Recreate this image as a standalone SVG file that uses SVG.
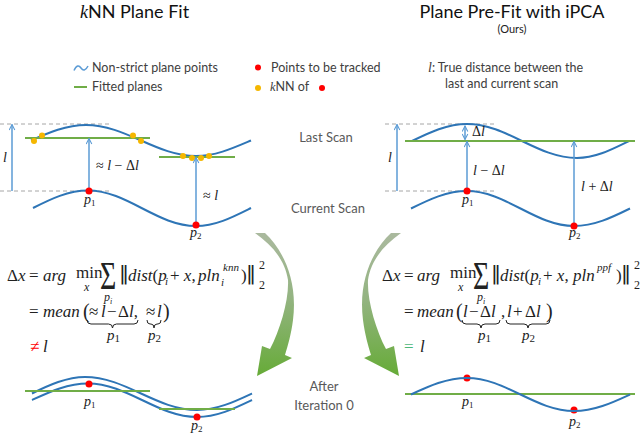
<svg xmlns="http://www.w3.org/2000/svg" width="640" height="436" viewBox="0 0 640 436">
<defs>
<style>
.sans{font-family:Lato,"Open Sans","Liberation Sans",sans-serif;}
.ttl{font-size:18px;fill:#111;}
.leg{font-size:12.5px;fill:#404040;}
.lbl{font-size:13px;fill:#595959;}
.m{font-family:"Liberation Serif","DejaVu Serif",serif;font-size:17px;fill:#222;}
.mi{font-style:italic;}
.nb{font-family:"DejaVu Sans",sans-serif;font-size:20px;fill:#222;font-style:normal;}
.sig{font-family:"Liberation Serif",serif;font-size:40px;fill:#222;}
.ml{font-family:"Liberation Serif","DejaVu Serif",serif;font-size:14px;fill:#222;font-style:italic;}
.wave{fill:none;stroke:#2e75b6;stroke-width:2;}
.plane{stroke:#70ad47;stroke-width:2;}
.arr{stroke:#5b9bd5;stroke-width:1.5;fill:none;marker-end:url(#ah);}
.dash{stroke:#a6a6a6;stroke-width:1;stroke-dasharray:4,3;}
.red{fill:#ff0000;}
.yel{fill:#f5b700;}
.brace{fill:none;stroke:#222;stroke-width:1;}
</style>
<marker id="ah" viewBox="0 0 10 10" refX="9" refY="5" markerWidth="7" markerHeight="7" orient="auto-start-reverse" markerUnits="userSpaceOnUse">
<path d="M1,1 L9,5 L1,9" fill="none" stroke="#5b9bd5" stroke-width="1.5"/>
</marker>
<linearGradient id="gg" gradientUnits="userSpaceOnUse" x1="0" y1="233" x2="0" y2="376">
<stop offset="0" stop-color="#aab99e"/>
<stop offset="0.45" stop-color="#94b482"/>
<stop offset="1" stop-color="#66ab37"/>
</linearGradient>
</defs>

<g id="titles">
<text x="80" y="18" class="sans ttl"><tspan font-family="Liberation Serif,serif" font-style="italic">k</tspan>NN Plane Fit</text>
<text x="512" y="18" class="sans ttl" text-anchor="middle">Plane Pre-Fit with iPCA</text>
<text x="512" y="33" class="sans" font-size="11" fill="#222" text-anchor="middle">(Ours)</text>
</g>

<g id="legend">
<path d="M74,70.5 C76.5,65 79,65 81,68 C83,71 85.5,71 88,66" fill="none" stroke="#5b9bd5" stroke-width="1.5"/>
<text x="92" y="72" class="sans leg">Non-strict plane points</text>
<line x1="74" y1="87" x2="87" y2="87" class="plane" stroke-width="1.5"/>
<text x="92" y="91" class="sans leg">Fitted planes</text>
<circle cx="258" cy="67.5" r="3" class="red"/>
<text x="271" y="72" class="sans leg">Points to be tracked</text>
<circle cx="258" cy="88" r="3" class="yel"/>
<text x="270" y="91" class="sans leg"><tspan font-family="Liberation Serif,serif" font-style="italic">k</tspan>NN of</text>
<circle cx="322" cy="88" r="3" class="red"/>
<text x="428" y="72" class="sans leg"><tspan font-family="Liberation Serif,serif" font-style="italic" font-size="14">l</tspan>: True distance between the</text>
<text x="445" y="88" class="sans leg">last and current scan</text>
</g>

<g id="scan-labels">
<text x="326" y="142" class="sans lbl" text-anchor="middle">Last Scan</text>
<text x="328" y="213" class="sans lbl" text-anchor="middle">Current Scan</text>
<text x="324" y="391" class="sans lbl" text-anchor="middle">After</text>
<text x="324" y="410" class="sans lbl" text-anchor="middle">Iteration 0</text>
</g>

<g id="left-diagram">
<line x1="0" y1="124" x2="110" y2="124" class="dash"/>
<line x1="0" y1="191" x2="110" y2="191" class="dash"/>
<line x1="12" y1="191" x2="12" y2="124.5" class="arr"/>
<text x="3" y="162" class="ml">l</text>
<path class="wave" d="M31,140.5 C48.9,132.6 66.1,125 86,125 C126,125 156,156 196,156 C215.9,156 233.1,148.1 251,140.5"/>
<line x1="25" y1="138" x2="150" y2="138" class="plane"/>
<line x1="159" y1="157" x2="235" y2="157" class="plane"/>
<circle cx="34" cy="141" r="3" class="yel"/>
<circle cx="42" cy="135.5" r="3" class="yel"/>
<circle cx="133" cy="135.5" r="3" class="yel"/>
<circle cx="141" cy="141" r="3" class="yel"/>
<circle cx="183" cy="156" r="3" class="yel"/>
<circle cx="192" cy="158" r="3" class="yel"/>
<circle cx="201" cy="158" r="3" class="yel"/>
<circle cx="209" cy="156" r="3" class="yel"/>
<path class="wave" d="M33,208 C50.9,198.9 68.1,190.5 88,190.5 C127.2,190.5 156.8,226 196,226 C215.9,226 233.1,216.9 251,208"/>
<line x1="89" y1="190" x2="89" y2="138.5" class="arr"/>
<line x1="196" y1="224" x2="196" y2="157.5" class="arr"/>
<circle cx="89" cy="191" r="3.5" class="red"/>
<circle cx="196" cy="225" r="3.5" class="red"/>
<text x="96" y="170" class="ml"><tspan font-style="normal">≈</tspan> l <tspan font-style="normal">− Δ</tspan>l</text>
<text x="203" y="200" class="ml"><tspan font-style="normal">≈</tspan> l</text>
<text x="84" y="204" class="ml">p<tspan font-size="9" font-style="normal" dy="2">1</tspan></text>
<text x="190" y="237" class="ml">p<tspan font-size="9" font-style="normal" dy="2">2</tspan></text>
</g>

<g id="right-diagram">
<line x1="385" y1="124" x2="495" y2="124" class="dash"/>
<line x1="385" y1="191" x2="495" y2="191" class="dash"/>
<line x1="397" y1="191" x2="397" y2="124.5" class="arr"/>
<text x="388" y="162" class="ml">l</text>
<path class="wave" d="M412,141 C429.9,132.3 447.1,124 467,124 C506.9,124 537,158 577,158 C595.8,158 612,149.3 629,141"/>
<line x1="405" y1="141" x2="635" y2="141" class="plane"/>
<line x1="465" y1="126" x2="465" y2="139.5" class="arr" marker-start="url(#ah)"/>
<text x="472" y="136" class="ml"><tspan font-style="normal">Δ</tspan>l</text>
<path class="wave" d="M411,208.5 C429.3,199.5 446.7,191 467,191 C505.8,191 535.2,226 574,226 C594.3,226 611.7,217.5 630,208.5"/>
<line x1="467" y1="190" x2="467" y2="141.5" class="arr"/>
<line x1="574" y1="225" x2="574" y2="141.5" class="arr"/>
<circle cx="467" cy="191" r="3.5" class="red"/>
<circle cx="574" cy="226" r="3.5" class="red"/>
<text x="473" y="175" class="ml">l <tspan font-style="normal">− Δ</tspan>l</text>
<text x="581" y="191" class="ml">l <tspan font-style="normal">+ Δ</tspan>l</text>
<text x="462" y="204" class="ml">p<tspan font-size="9" font-style="normal" dy="2">1</tspan></text>
<text x="569" y="237" class="ml">p<tspan font-size="9" font-style="normal" dy="2">2</tspan></text>
</g>

<g id="connectors">
<path id="iter-arrow-left" fill="url(#gg)" d="M255,233 L265,233 C283,250 298,280 293,320 C291,335 288,345 285,355 L292,358 L257,376 L262,346 L270,349 C280,330 289,300 288,280 C285,260 272,245 255,233 Z"/>
<path id="iter-arrow-right" fill="url(#gg)" transform="translate(656,0) scale(-1,1)" d="M255,233 L265,233 C283,250 298,280 293,320 C291,335 288,345 285,355 L292,358 L257,376 L262,346 L270,349 C280,330 289,300 288,280 C285,260 272,245 255,233 Z"/>
</g>

<g id="left-equation" class="m">
<text x="7" y="281">Δ<tspan class="mi">x</tspan></text>
<text x="29" y="281">=</text>
<text x="43" y="281" class="mi">arg</text>
<text x="76" y="278">min</text>
<text x="84" y="291" class="mi" font-size="12">x</text>
<text class="sig" transform="translate(100,289) scale(0.7,1)">Σ</text>
<text x="104" y="301" class="mi" font-size="12">p<tspan font-size="8" dy="2.5">i</tspan></text>
<text x="119" y="280" class="nb">‖</text>
<text x="128" y="281" class="mi">dist<tspan font-style="normal">(</tspan>p</text>
<text x="165" y="285" class="mi" font-size="11">i</text>
<text x="170" y="281">+ <tspan class="mi">x</tspan>,</text>
<text x="198" y="281" class="mi">pln</text>
<text x="221" y="286" class="mi" font-size="11">i</text>
<text x="223" y="271" class="mi" font-size="11">knn</text>
<text x="241" y="281">)</text>
<text x="246" y="280" class="nb">‖</text>
<text x="259" y="269" font-size="12">2</text>
<text x="259" y="289" font-size="12">2</text>

<text x="29" y="317">=</text>
<text x="43" y="317" class="mi">mean</text>
<text x="83" y="318" font-size="20">(</text>
<text x="89" y="317">≈</text>
<text x="101" y="317" class="mi">l</text>
<text x="107" y="317">−</text>
<text x="118" y="317">Δ<tspan class="mi">l</tspan>,</text>
<text x="146" y="317">≈</text>
<text x="157" y="317" class="mi">l</text>
<text x="163" y="318" font-size="20">)</text>
<path class="brace" d="M87,320 q0,4 4,4 H108.5 q4,0 4,4 q0,-4 4,-4 H134 q4,0 4,-4"/>
<path class="brace" d="M147,320 q0,4 3,4 H151 q3,0 3,4 q0,-4 3,-4 H158 q3,0 3,-4"/>
<text x="107" y="340" class="mi" font-size="15">p<tspan font-style="normal" font-size="11" dy="2">1</tspan></text>
<text x="148" y="340" class="mi" font-size="15">p<tspan font-style="normal" font-size="11" dy="2">2</tspan></text>

<text x="30" y="352" fill="#ff0000">≠</text>
<text x="43" y="352" class="mi">l</text>
</g>

<g id="right-equation" class="m">
<text x="382" y="281">Δ<tspan class="mi">x</tspan></text>
<text x="404" y="281">=</text>
<text x="417" y="281" class="mi">arg</text>
<text x="450" y="278">min</text>
<text x="458" y="291" class="mi" font-size="12">x</text>
<text class="sig" transform="translate(473,289) scale(0.7,1)">Σ</text>
<text x="477" y="301" class="mi" font-size="12">p<tspan font-size="8" dy="2.5">i</tspan></text>
<text x="491" y="280" class="nb">‖</text>
<text x="500" y="281" class="mi">dist<tspan font-style="normal">(</tspan>p</text>
<text x="538" y="285" class="mi" font-size="11">i</text>
<text x="543" y="281">+ <tspan class="mi">x</tspan>,</text>
<text x="573" y="281" class="mi">pln</text>
<text x="597" y="271" class="mi" font-size="11">ppf</text>
<text x="616" y="281">)</text>
<text x="621" y="280" class="nb">‖</text>
<text x="634" y="269" font-size="12">2</text>
<text x="634" y="289" font-size="12">2</text>

<text x="404" y="317">=</text>
<text x="417" y="317" class="mi">mean</text>
<text x="456" y="318" font-size="20">(</text>
<text x="463" y="317" class="mi">l</text>
<text x="469" y="317">−</text>
<text x="480" y="317">Δ<tspan class="mi">l</tspan></text>
<text x="501" y="317">,</text>
<text x="507" y="317" class="mi">l</text>
<text x="513" y="317">+</text>
<text x="525" y="317">Δ<tspan class="mi">l</tspan></text>
<text x="546" y="318" font-size="20">)</text>
<path class="brace" d="M462,320 q0,4 4,4 H477 q4,0 4,4 q0,-4 4,-4 H496 q4,0 4,-4"/>
<path class="brace" d="M506,320 q0,4 4,4 H524 q4,0 4,4 q0,-4 4,-4 H546 q4,0 4,-4"/>
<text x="478" y="340" class="mi" font-size="15">p<tspan font-style="normal" font-size="11" dy="2">1</tspan></text>
<text x="522" y="340" class="mi" font-size="15">p<tspan font-style="normal" font-size="11" dy="2">2</tspan></text>

<text x="404" y="352" fill="#4cb87a">=</text>
<text x="420" y="352" class="mi">l</text>
</g>

<g id="left-after">
<path class="wave" d="M32,393.5 C49.3,385 66.8,377 85,377 C125.7,377 156.3,410 197,410 C216.9,410 234.1,401.9 252,393.5"/>
<path class="wave" d="M32,400 C50.3,391.6 67.7,383.5 88,383.5 C127.6,383.5 157.4,417 197,417 C216.9,417 234.1,408.6 252,400"/>
<line x1="25" y1="391" x2="150" y2="391" class="plane"/>
<line x1="159" y1="409" x2="235" y2="409" class="plane"/>
<circle cx="89" cy="384" r="3.5" class="red"/>
<circle cx="197" cy="417" r="3.5" class="red"/>
<text x="84" y="406" class="ml">p<tspan font-size="9" font-style="normal" dy="2">1</tspan></text>
<text x="191" y="430" class="ml">p<tspan font-size="9" font-style="normal" dy="2">2</tspan></text>
</g>

<g id="right-after">
<line x1="405" y1="394" x2="635" y2="394" class="plane"/>
<circle cx="467" cy="378" r="3.5" class="red"/>
<circle cx="574" cy="410" r="3.5" class="red"/>
<path class="wave" stroke-width="3.5" d="M411,394.5 C429.3,386 446.7,378 467,378 C505.8,378 535.2,411 574,411 C594.3,411 611.7,402.9 630,394.5"/>
<text x="462" y="406" class="ml">p<tspan font-size="9" font-style="normal" dy="2">1</tspan></text>
<text x="569" y="426" class="ml">p<tspan font-size="9" font-style="normal" dy="2">2</tspan></text>
</g>
</svg>
